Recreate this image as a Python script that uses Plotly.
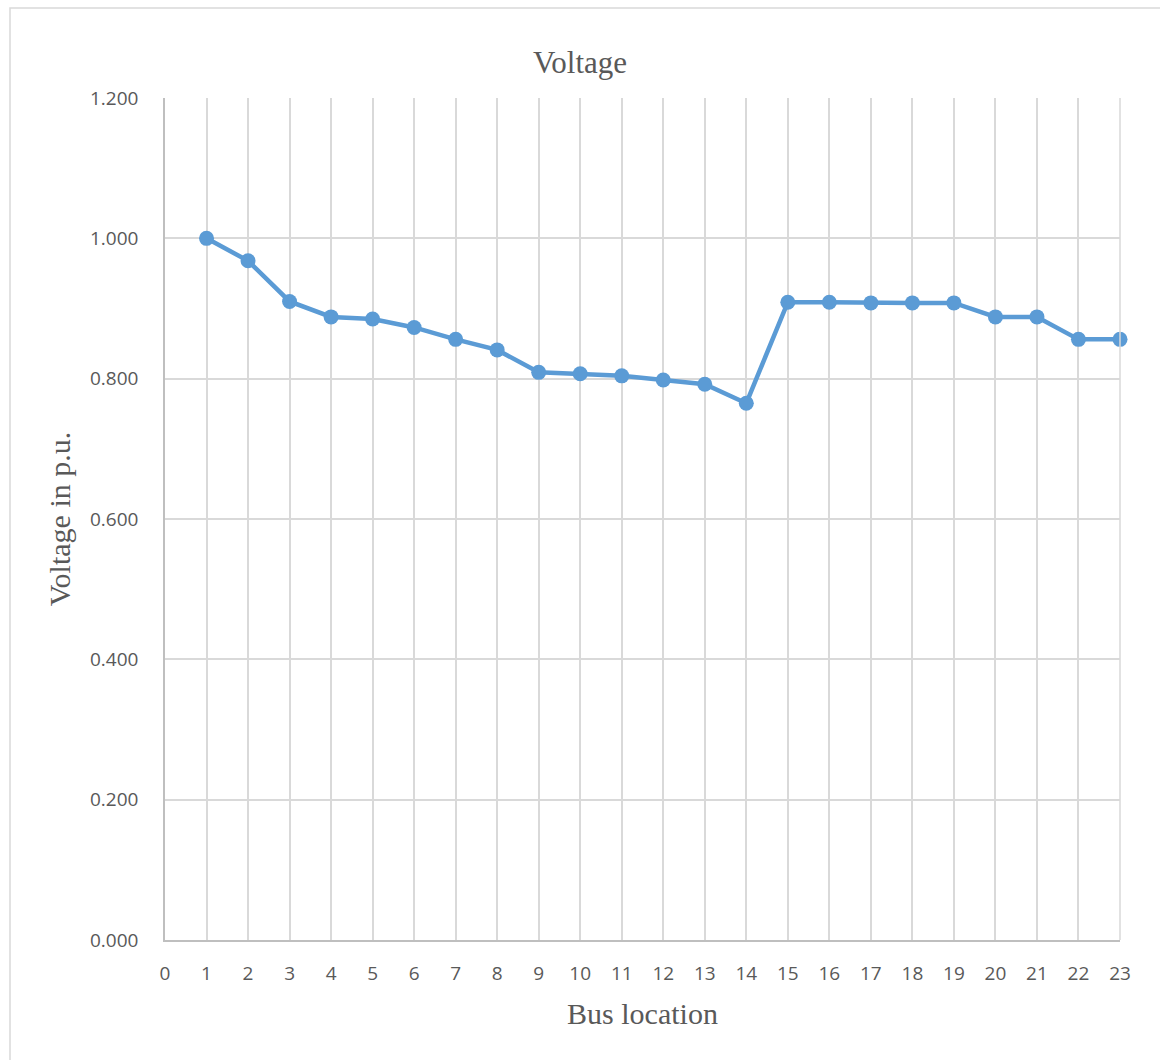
import plotly.graph_objects as go

# Bus voltage profile (per-unit) along the feeder
bus = list(range(1, 24))
voltage = [1.000, 0.968, 0.910, 0.888, 0.885, 0.873, 0.856, 0.841, 0.809,
           0.807, 0.804, 0.798, 0.792, 0.765, 0.909, 0.909, 0.908, 0.908,
           0.908, 0.888, 0.888, 0.856, 0.856]
x_ticks = list(range(0, 24))
y_ticks = [0.0, 0.2, 0.4, 0.6, 0.8, 1.0, 1.2]

LINE = "#5b9bd5"
GRID = "#d9d9d9"
TEXT = "#595959"
SERIF = "Liberation Serif, Times New Roman, serif"
SANS = "Open Sans, Noto Sans, sans-serif"

fig = go.Figure()
fig.add_trace(go.Scatter(
    x=bus, y=voltage, mode="lines+markers",
    line=dict(color=LINE, width=4.5),
    marker=dict(color=LINE, size=15),
    showlegend=False, cliponaxis=False,
))

fig.update_layout(
    width=1160, height=1060,
    margin=dict(l=165, r=40, t=98, b=120),
    paper_bgcolor="white", plot_bgcolor="white",
    title=dict(text="Voltage", x=0.5, xanchor="center", y=1 - 62 / 1060,
               yanchor="middle", font=dict(family=SERIF, size=31, color=TEXT)),
    xaxis=dict(
        range=[0, 23], tickmode="array", tickvals=x_ticks,
        ticktext=[str(v) for v in x_ticks],
        showgrid=True, gridcolor=GRID, gridwidth=1.5,
        showline=True, linecolor="#bfbfbf", linewidth=1.5,
        zeroline=False, ticks="", ticklen=0, ticklabelstandoff=15,
        tickfont=dict(family=SANS, size=19, color=TEXT),
        title=dict(text="Bus location", standoff=18,
                   font=dict(family=SERIF, size=30, color=TEXT)),
    ),
    yaxis=dict(
        range=[0, 1.2], tickmode="array", tickvals=y_ticks,
        ticktext=[f"{v:.3f}" for v in y_ticks],
        showgrid=True, gridcolor=GRID, gridwidth=1.5,
        showline=True, linecolor="#bfbfbf", linewidth=1.5,
        zeroline=False, ticks="", ticklen=0, ticklabelstandoff=21,
        tickfont=dict(family=SANS, size=19, color=TEXT),
        title=dict(text="Voltage in p.u.", standoff=10,
                   font=dict(family=SERIF, size=30, color=TEXT)),
    ),
)

# right edge of plot area drawn as a gridline-coloured border
fig.add_shape(type="line", xref="paper", yref="paper", x0=1, x1=1, y0=0, y1=1,
              line=dict(color=GRID, width=1.5))
# outer chart frame
fig.add_shape(type="rect", xref="paper", yref="paper",
              x0=(10 - 165) / 955, x1=(1165 - 165) / 955,
              y0=-(1065 - 940) / 842, y1=(940 - 8) / 842,
              line=dict(color=GRID, width=1.5), layer="below")

fig.write_html("out.html")
